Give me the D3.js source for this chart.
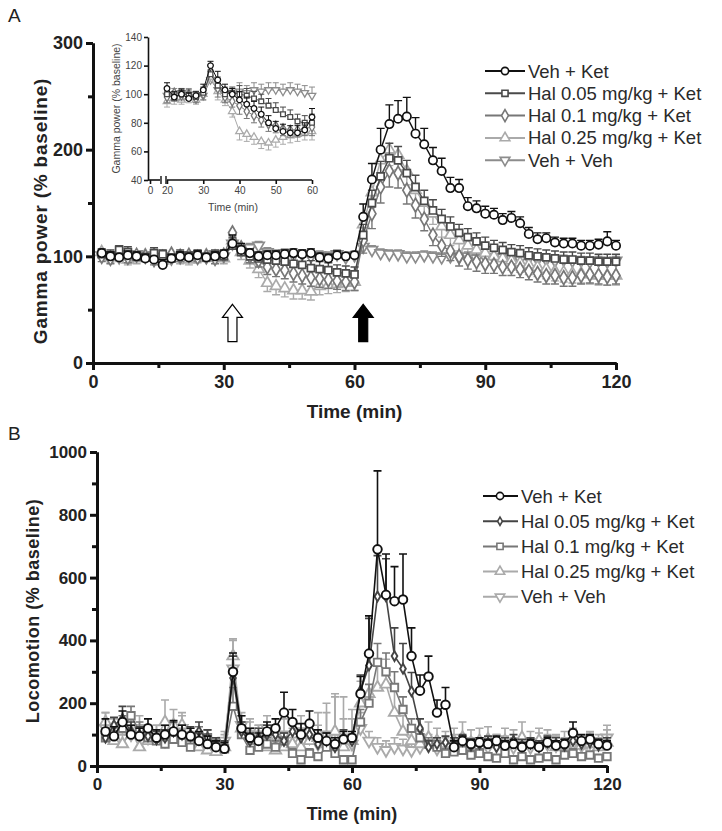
<!DOCTYPE html>
<html><head><meta charset="utf-8">
<script src="https://cdn.jsdelivr.net/npm/d3@7"></script>
<style>body{margin:0;background:#fff} text{font-family:"Liberation Sans",Arial,sans-serif}</style>
</head><body><svg id="c" width="722" height="831"></svg>
<script>
// ---------- DATA ----------
const times = d3.range(2, 121, 2);          // 2-min bins, 2..120
const insetTimes = d3.range(20, 61, 2);     // inset 20..60

const seriesA = ["Veh + Ket", "Hal 0.05 mg/kg + Ket", "Hal 0.1 mg/kg + Ket", "Hal 0.25 mg/kg + Ket", "Veh + Veh"];
const seriesB = ["Veh + Ket", "Hal 0.05 mg/kg + Ket", "Hal 0.1 mg/kg + Ket", "Hal 0.25 mg/kg + Ket", "Veh + Veh"];

// Panel A: gamma power (% baseline)
const vehKetA = [103,100,99,101,100,98,97,92,98,100,99,101,99,100,102, 112,106,103,100,101, 101,102,103,102,103, 99,98,101,100,101, 137,172,200,224,229, 231,215,205,190,180, 164,164,147,145,140, 139,134,136,131,121, 116,117,113,112,112, 110,110,111,114,110];
const hal05A  = [102,101,106,104,100,99,103,102,98,101,100,102,99,101,100, 110,104,100,98,97, 96,95,93,92,89, 88,87,85,84,83, 120,150,175,192,190, 178,165,152,143,135, 128,122,118,114,110, 108,106,104,103,101, 100,99,98,97,97, 96,96,95,95,95];
const hal1A   = [100,98,102,99,101,100,97,99,102,100,101,99,100,98,101, 122,108,100,96,90, 88,87,84,82,80, 79,78,77,76,76, 115,140,165,180,178, 162,148,135,120,110, 105,100,97,95,93, 92,90,90,88,86, 84,82,82,80,80, 82,83,82,81,82];
const hal25A  = [104,99,100,97,98,101,99,96,100,98,97,99,101,100,98, 115,104,96,88,75, 72,70,68,68,67, 72,73,74,75,76, 130,160,190,200,195, 180,162,150,140,128, 120,115,110,106,103, 100,98,96,94,92, 90,88,86,85,84, 84,83,82,82,82];
const vehVehA = [101,100,99,100,102,101,99,100,98,99,101,100,99,102,100, 112,105,108,110,104, 102,103,101,102,100, 101,100,102,99,101, 109,106,103,102,102, 100,100,101,100,99, 100,99,100,98,99, 98,99,98,97,98, 97,97,96,97,96, 96,95,96,95,96];

const vehKetErrA = [4,4,3,4,4,4,3,5,4,4,3,4,3,4,4, 8,6,4,4,4, 4,4,4,4,4, 4,4,4,3,3, 12,15,20,18,17, 18,15,15,12,12, 10,8,8,7,7, 6,6,6,6,6, 6,5,5,5,5, 5,5,5,9,5];
const hal05ErrA  = [4,5,4,5,4,4,5,4,4,5,4,4,4,5,4, 8,6,5,5,6, 6,7,7,7,7, 7,7,7,7,7, 10,12,14,14,13, 12,11,10,10,9, 9,8,8,8,8, 7,7,7,7,7, 7,7,7,7,7, 7,7,7,7,7];
const hal1ErrA   = [5,5,4,5,5,4,5,5,4,5,5,4,5,5,4, 8,6,6,6,7, 7,8,8,8,8, 8,8,8,8,8, 12,14,15,15,14, 13,12,11,10,10, 9,9,9,9,9, 8,8,8,8,8, 8,8,8,8,8, 8,8,8,8,8];
const hal25ErrA  = [5,5,5,5,5,5,5,5,5,5,5,5,5,5,5, 8,7,7,8,8, 8,8,8,8,8, 8,8,8,8,8, 12,14,15,15,14, 13,12,11,10,10, 10,10,10,9,9, 9,9,9,9,9, 9,9,9,9,9, 9,9,9,9,9];
const vehVehErrA = [3,3,3,3,3,3,3,3,3,3,3,3,3,3,3, 5,4,4,4,4, 4,4,4,4,4, 4,4,4,4,4, 5,4,4,4,4, 4,4,4,4,4, 4,4,4,4,4, 4,4,4,4,4, 4,4,4,4,4, 4,4,4,4,4];

// Inset (20-60 min)
const insetVehKet = [104,98,100,97,99,103,120,110,103,100,96,93,90,86,80,76,74,73,73,75,84];
const insetHal05  = [100,97,101,99,98,101,114,106,100,101,100,99,97,95,92,89,86,84,81,80,80];
const insetHal1   = [98,101,99,100,97,100,116,104,98,95,92,88,85,82,79,78,76,75,75,76,77];
const insetHal25  = [95,97,96,98,96,100,112,102,96,88,74,72,70,67,66,68,70,71,72,73,74];
const insetVehVeh = [99,100,101,100,98,99,110,103,101,100,102,101,103,102,103,103,102,103,102,101,99];
const insetErr    = [4,4,3,4,3,4,3,6,4,4,6,5,5,5,5,5,5,5,5,5,6];

// Panel B: locomotion (% baseline)
const vehKetB = [110,95,140,100,95,120,90,100,110,100,95,80,70,60,55, 300,120,90,80,110, 120,170,140,100,135, 90,80,70,85,90, 230,358,690,545,525, 530,350,240,285,170, 195,60,80,70,75, 70,80,65,70,60, 70,60,75,65,70, 105,80,85,70,65];
const hal05B  = [90,130,150,110,100,95,85,90,110,100,100,110,90,70,60, 280,110,80,90,100, 100,80,110,90,100, 70,80,60,90,80, 240,320,540,540,350, 310,238,120,60,70, 75,70,80,65,70, 75,60,70,80,65, 70,60,75,70,65, 80,70,75,65,70];
const hal1B   = [90,100,120,160,110,90,80,70,85,75,60,95,90,70,55, 190,100,50,60,70, 60,80,40,20,40, 30,60,40,20,20, 140,200,330,300,250, 180,120,90,70,60, 40,45,50,35,40, 30,25,40,20,30, 20,25,30,20,35, 40,30,35,25,30];
const hal25B  = [140,80,70,110,60,80,90,140,130,130,80,60,50,45,60, 350,120,100,90,60, 50,60,70,60,80, 90,70,110,60,80, 200,230,250,260,170, 110,80,70,90,80, 70,80,90,75,80, 85,70,80,75,90, 70,80,75,60,70, 80,65,70,60,75];
const vehVehB = [120,110,90,100,120,90,100,80,100,120,90,80,70,65,80, 310,130,110,100,120, 90,100,80,110,90, 70,100,80,90,70, 120,80,60,50,60, 55,50,60,70,55, 60,70,65,60,55, 60,70,65,60,55, 60,75,70,65,60, 70,65,75,70,90];

const vehKetErrB = [40,30,35,30,25,30,25,30,35,30,25,30,25,20,20, 60,40,30,25,30, 30,65,40,35,40, 25,25,20,25,20, 55,120,250,130,110, 145,90,50,65,40, 55,20,15,15,15, 15,15,15,15,15, 15,15,15,15,15, 35,20,15,15,15];
const hal05ErrB  = [30,25,40,30,25,30,25,25,30,30,25,30,25,20,20, 70,30,25,30,30, 30,25,30,25,30, 25,25,20,25,20, 50,150,130,120,90, 80,60,30,20,20, 20,20,20,20,20, 20,20,20,20,20, 20,20,20,20,20, 20,20,20,20,20];
const hal1ErrB   = [30,30,40,30,30,25,20,20,25,25,20,30,25,20,15, 60,30,20,20,20, 20,25,15,10,15, 10,20,15,10,10, 40,60,60,60,50, 40,30,25,20,20, 15,15,15,15,15, 10,10,15,10,10, 10,10,10,10,10, 15,10,10,10,10];
const hal25ErrB  = [30,30,30,40,30,30,40,70,50,40,30,30,25,20,40, 55,40,40,40,30, 30,30,40,40,60, 80,100,120,90,100, 70,90,80,80,70, 50,40,40,50,40, 40,40,50,40,40, 40,30,40,40,50, 40,40,40,40,40, 40,30,40,30,40];
const vehVehErrB = [50,40,30,30,40,30,30,30,30,40,30,30,25,25,30, 90,40,40,30,40, 40,50,40,50,40, 60,100,140,130,80, 50,30,30,30,30, 30,30,30,30,30, 30,30,30,30,30, 30,30,30,30,30, 30,30,30,30,30, 30,30,30,30,40];

const yTicksA = [0,100,200,300], yMinorA = [50,150,250];
const xTicks = [0,30,60,90,120], xMinor = [15,45,75,105];
const yTicksB = [0,200,400,600,800,1000], yMinorB = [100,300,500,700,900];
const insetYTicks = [40,60,80,100,120,140], insetXTicks = [20,30,40,50,60];
const drugTimes = [32, 62];   // arrows: haloperidol/vehicle, then ketamine

// ---------- STYLES ----------
const stylesA = [
  {color:"#111", sym:d3.symbolCircle, size:55, rot:false, dir:1},
  {color:"#4a4a4a", sym:d3.symbolSquare, size:50, rot:false, dir:1},
  {color:"#777", sym:d3.symbolDiamond, size:55, rot:false, dir:-1},
  {color:"#aaa", sym:d3.symbolTriangle, size:55, rot:false, dir:-1},
  {color:"#8c8c8c", sym:d3.symbolTriangle, size:55, rot:true, dir:1}
];
const stylesB = [
  {color:"#111", sym:d3.symbolCircle, size:58, rot:false, dir:1},
  {color:"#444", sym:d3.symbolDiamond, size:28, rot:false, dir:1},
  {color:"#777", sym:d3.symbolSquare, size:55, rot:false, dir:1},
  {color:"#aaa", sym:d3.symbolTriangle, size:55, rot:false, dir:1},
  {color:"#aaa", sym:d3.symbolTriangle, size:55, rot:true, dir:1}
];
const fmt = d3.format("d");

const svg = d3.select("#c");
svg.append("rect").attr("width",722).attr("height",831).attr("fill","#fff");

function drawSeries(g, x, y, ts, vals, errs, st, sizeMul, capW, sw) {
  const pts = ts.map((t,i)=>({t, v:vals[i], e:errs[i]}));
  const s = g.append("g");
  s.selectAll(null).data(pts).join("path")
    .attr("d", d=>{const x0=x(d.t), y0=y(d.v), y1=y(Math.max(0,d.v+st.dir*d.e));
      return `M${x0},${y0}V${y1}M${x0-capW},${y1}H${x0+capW}`;})
    .attr("stroke", st.color).attr("stroke-width", sw).attr("fill","none");
  s.append("path").datum(pts)
    .attr("d", d3.line().x(d=>x(d.t)).y(d=>y(d.v)))
    .attr("stroke", st.color).attr("stroke-width", sw).attr("fill","none");
  s.selectAll(null).data(pts).join("path")
    .attr("transform", d=>`translate(${x(d.t)},${y(d.v)})${st.rot?" rotate(180)":""}`)
    .attr("d", d3.symbol(st.sym, st.size*sizeMul)())
    .attr("fill","#fff").attr("stroke", st.color).attr("stroke-width", sw+0.3);
}

function styleAxis(g, fs, bold, color, w) {
  g.select(".domain").attr("stroke","#111").attr("stroke-width",w);
  g.selectAll(".tick line").attr("stroke","#111").attr("stroke-width",w);
  g.selectAll(".tick text").attr("font-size",fs).attr("font-weight",bold?"bold":"normal")
    .attr("fill",color).attr("font-family","'Liberation Sans',Arial,sans-serif");
}

// ---------- PANEL A ----------
const xA = d3.scaleLinear([0,120],[93,616]);
const yA = d3.scaleLinear([0,300],[363,43]);
const gA = svg.append("g");

svg.append("text").attr("x",8).attr("y",22).attr("font-size",19).attr("fill","#222").text("A");

const seriesDataA = [vehKetA, hal05A, hal1A, hal25A, vehVehA];
const errDataA = [vehKetErrA, hal05ErrA, hal1ErrA, hal25ErrA, vehVehErrA];
[4,3,2,1,0].forEach(i=>drawSeries(gA, xA, yA, times, seriesDataA[i], errDataA[i], stylesA[i], 1, 4, 1.4));

// axes
const axYA = gA.append("g").attr("transform",`translate(${xA(0)},0)`)
  .call(d3.axisLeft(yA).tickValues(yTicksA).tickFormat(fmt).tickSize(7).tickSizeOuter(0).tickPadding(3));
styleAxis(axYA, 18, true, "#222", 3);
const axYAm = gA.append("g").attr("transform",`translate(${xA(0)},0)`)
  .call(d3.axisLeft(yA).tickValues(yMinorA).tickSize(5).tickSizeOuter(0).tickFormat(""));
styleAxis(axYAm, 18, true, "#222", 3);
const axXA = gA.append("g").attr("transform",`translate(0,${yA(0)})`)
  .call(d3.axisBottom(xA).tickValues(xTicks).tickFormat(fmt).tickSize(7).tickSizeOuter(0).tickPadding(5));
styleAxis(axXA, 18, true, "#222", 3);
const axXAm = gA.append("g").attr("transform",`translate(0,${yA(0)})`)
  .call(d3.axisBottom(xA).tickValues(xMinor).tickSize(5).tickSizeOuter(0).tickFormat(""));
styleAxis(axXAm, 18, true, "#222", 3);

gA.append("text").attr("transform",`translate(47,${(yA(0)+yA(300))/2+8}) rotate(-90)`)
  .attr("text-anchor","middle").attr("font-size",19).attr("font-weight","bold")
  .attr("letter-spacing",0.8).attr("fill","#222").text("Gamma power (% baseline)");
gA.append("text").attr("x",xA(60)).attr("y",418).attr("text-anchor","middle")
  .attr("font-size",19).attr("font-weight","bold").attr("fill","#222").text("Time (min)");

// arrows
drugTimes.forEach((t,i)=>{
  const cx = xA(t), yTop = yA(55), yBot = yA(20), hw = 10, sw2 = 4.5, hh = 13;
  gA.append("path")
    .attr("d",`M${cx},${yTop}L${cx+hw},${yTop+hh}L${cx+sw2},${yTop+hh}L${cx+sw2},${yBot}L${cx-sw2},${yBot}L${cx-sw2},${yTop+hh}L${cx-hw},${yTop+hh}Z`)
    .attr("fill", i===0?"#fff":"#000").attr("stroke","#000").attr("stroke-width",1.2);
});

// legend A
const legA = svg.append("g");
seriesA.forEach((name,i)=>{
  const y = 71 + i*22.3, st = stylesA[i];
  legA.append("line").attr("x1",485).attr("x2",525).attr("y1",y).attr("y2",y)
    .attr("stroke",st.color).attr("stroke-width",2);
  legA.append("path").attr("transform",`translate(505,${y})${st.rot?" rotate(180)":""}`)
    .attr("d",d3.symbol(st.sym, st.size*0.75)()).attr("fill","#fff").attr("stroke",st.color).attr("stroke-width",1.6);
  legA.append("text").attr("x",528).attr("y",y+6.5).attr("font-size",18.5).attr("fill","#2a2a2a").text(name);
});

// ---------- INSET ----------
const xI = d3.scaleLinear([20,60],[167,312]);
const xI0 = d3.scaleLinear([0,5],[150,160]);
const yI = d3.scaleLinear([40,140],[180,37]);
const gI = svg.append("g");
const insetData = [insetVehKet, insetHal05, insetHal1, insetHal25, insetVehVeh];
[4,3,2,1,0].forEach(i=>drawSeries(gI, xI, yI, insetTimes, insetData[i], insetErr, stylesA[i], 0.45, 3, 1));

const axYI = gI.append("g").attr("transform",`translate(148,0)`)
  .call(d3.axisLeft(yI).tickValues(insetYTicks).tickFormat(fmt).tickSize(4).tickSizeOuter(0).tickPadding(2));
styleAxis(axYI, 10, false, "#444", 1.6);
const axXI = gI.append("g").attr("transform",`translate(0,${yI(40)})`)
  .call(d3.axisBottom(xI).tickValues(insetXTicks).tickFormat(fmt).tickSize(4).tickSizeOuter(0).tickPadding(3));
styleAxis(axXI, 10, false, "#444", 1.6);
axXI.select(".domain").attr("d",`M${xI(20)},0H${xI(60)}`);
const axXI0 = gI.append("g").attr("transform",`translate(0,${yI(40)})`)
  .call(d3.axisBottom(xI0).tickValues([0]).tickFormat(fmt).tickSize(4).tickSizeOuter(0).tickPadding(3));
styleAxis(axXI0, 10, false, "#444", 1.6);
axXI0.select(".domain").attr("d",`M148,0H${xI0(5)}`);
[xI0(5)+1, xI(20)-1].forEach(bx=>gI.append("line").attr("x1",bx).attr("x2",bx)
  .attr("y1",yI(40)-4).attr("y2",yI(40)+4).attr("stroke","#111").attr("stroke-width",1.4));
gI.append("text").attr("transform",`translate(120,${(yI(40)+yI(140))/2}) rotate(-90)`)
  .attr("text-anchor","middle").attr("font-size",10.5).attr("fill","#444").text("Gamma power (% baseline)");
gI.append("text").attr("x",233).attr("y",211).attr("text-anchor","middle")
  .attr("font-size",10.5).attr("fill","#444").text("Time (min)");

// ---------- PANEL B ----------
const xB = d3.scaleLinear([0,120],[97,607]);
const yB = d3.scaleLinear([0,1000],[766,452]);
const gB = svg.append("g");
svg.append("text").attr("x",8).attr("y",440).attr("font-size",19).attr("fill","#222").text("B");

const seriesDataB = [vehKetB, hal05B, hal1B, hal25B, vehVehB];
const errDataB = [vehKetErrB, hal05ErrB, hal1ErrB, hal25ErrB, vehVehErrB];
[4,3,2,1,0].forEach(i=>drawSeries(gB, xB, yB, times, seriesDataB[i], errDataB[i], stylesB[i], 1, 4, 1.6));

const axYB = gB.append("g").attr("transform",`translate(${xB(0)},0)`)
  .call(d3.axisLeft(yB).tickValues(yTicksB).tickFormat(fmt).tickSize(7).tickSizeOuter(0).tickPadding(3));
styleAxis(axYB, 17, true, "#222", 3);
const axYBm = gB.append("g").attr("transform",`translate(${xB(0)},0)`)
  .call(d3.axisLeft(yB).tickValues(yMinorB).tickSize(5).tickSizeOuter(0).tickFormat(""));
styleAxis(axYBm, 17, true, "#222", 3);
const axXB = gB.append("g").attr("transform",`translate(0,${yB(0)})`)
  .call(d3.axisBottom(xB).tickValues(xTicks).tickFormat(fmt).tickSize(7).tickSizeOuter(0).tickPadding(5));
styleAxis(axXB, 17, true, "#222", 3);
const axXBm = gB.append("g").attr("transform",`translate(0,${yB(0)})`)
  .call(d3.axisBottom(xB).tickValues(xMinor).tickSize(5).tickSizeOuter(0).tickFormat(""));
styleAxis(axXBm, 17, true, "#222", 3);

gB.append("text").attr("transform",`translate(39,${(yB(0)+yB(1000))/2+2}) rotate(-90)`)
  .attr("text-anchor","middle").attr("font-size",18).attr("font-weight","bold")
  .attr("letter-spacing",0.5).attr("fill","#222").text("Locomotion (% baseline)");
gB.append("text").attr("x",xB(60)).attr("y",820).attr("text-anchor","middle")
  .attr("font-size",18).attr("font-weight","bold").attr("fill","#222").text("Time (min)");

// legend B
const legB = svg.append("g");
seriesB.forEach((name,i)=>{
  const y = 496 + i*25.2, st = stylesB[i];
  legB.append("line").attr("x1",483).attr("x2",518).attr("y1",y).attr("y2",y)
    .attr("stroke",st.color).attr("stroke-width",2);
  legB.append("path").attr("transform",`translate(500,${y})${st.rot?" rotate(180)":""}`)
    .attr("d",d3.symbol(st.sym, st.size*0.7)()).attr("fill","#fff").attr("stroke",st.color).attr("stroke-width",1.6);
  legB.append("text").attr("x",521).attr("y",y+6.5).attr("font-size",18.5).attr("fill","#2a2a2a").text(name);
});
</script></body></html>
